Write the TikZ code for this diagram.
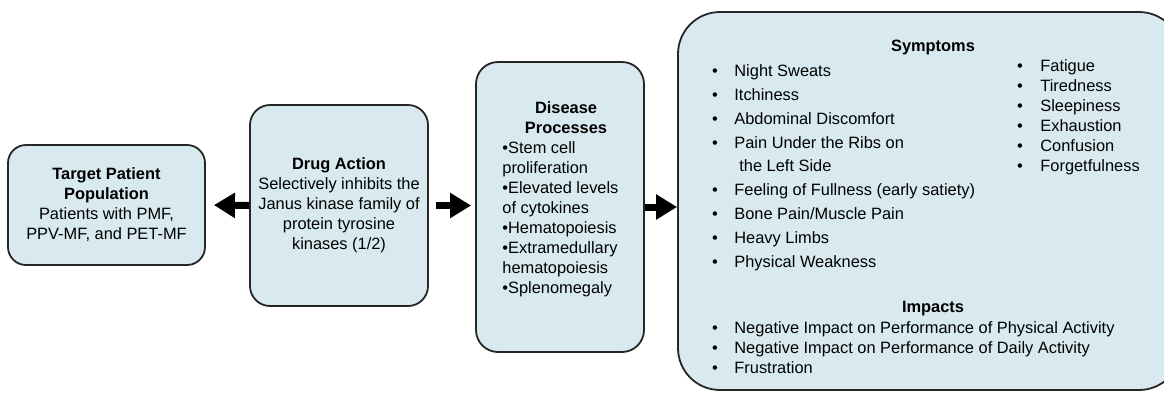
\documentclass[tikz,border=0pt]{standalone}
\usepackage{fontspec}
\setmainfont{Liberation Sans}
\usetikzlibrary{arrows.meta}
\definecolor{boxfill}{RGB}{216,234,239}
\tikzset{
    panel/.style={draw=black!85, line width=0.9pt, fill=boxfill, inner sep=0pt, align=center},
    flow/.style={line width=3.5pt, -{Triangle[length=10.5pt,width=12pt]}},
    txt/.style={inner sep=0pt, anchor=base west},
    bul/.style={inner sep=0pt, anchor=base},
    head/.style={inner sep=0pt, anchor=base, font=\fontsize{8.2}{10}\selectfont\bfseries}
}
\begin{document}
\begin{tikzpicture}[x=0.5pt,y=-0.5pt,font=\fontsize{8.2}{10}\selectfont]

            \useasboundingbox (0,0) rectangle (1164,392);

            % The four boxes
            \node[panel, minimum width=98.5pt, minimum height=60pt, rounded corners=9pt] (tgt) at (106.5,205)
                {\textbf{Target Patient}\\\textbf{Population}\\Patients with PMF,\\PPV-MF, and PET-MF};
            \node[panel, minimum width=89pt, minimum height=100.5pt, rounded corners=10pt] (drug) at (339,205.5)
                {\textbf{Drug Action}\\Selectively inhibits the\\Janus kinase family of\\protein tyrosine\\kinases (1/2)};
            \node[panel, minimum width=84pt, minimum height=145pt, rounded corners=11pt] (dis) at (560,207) {};
            \node[panel, minimum width=251.5pt, minimum height=189pt, rounded corners=21pt] (sym) at (929.5,201) {};

            % Disease processes (loop)
            \node[head] (dish1) at (566,113) {Disease};
            \node[head] (dish2) at (566,133) {Processes};
            \foreach \y/\lbl [count=\i] in {153/•Stem cell, 173/proliferation, 193/•Elevated levels,
                    213/of cytokines, 233/•Hematopoiesis, 253/•Extramedullary, 273/hematopoiesis, 293/•Splenomegaly}
                \node[txt] (dis\i) at (502,\y) {\lbl};

            % Symptoms, left column (loop)
            \node[head] (symh) at (933,51) {Symptoms};
            \foreach \y/\lbl [count=\i] in {76/Night Sweats, 100/Itchiness, 124/Abdominal Discomfort,
                    148/Pain Under the Ribs on, 195/Feeling of Fullness (early satiety),
                    219/{Bone Pain/Muscle Pain}, 243/Heavy Limbs, 267/Physical Weakness}
            {
                \node[bul] (sb\i) at (715,\y) {•};
                \node[txt] (st\i) at (734,\y) {\lbl};
            }
            \node[txt] (st0) at (739,171) {the Left Side};

            % Symptoms, right column (loop)
            \foreach \y/\lbl [count=\i] in {71/Fatigue, 91/Tiredness, 111/Sleepiness,
                    131/Exhaustion, 151/Confusion, 171/Forgetfulness}
            {
                \node[bul] (rb\i) at (1020,\y) {•};
                \node[txt] (rt\i) at (1040,\y) {\lbl};
            }

            % Impacts (loop)
            \node[head] (imph) at (933,312) {Impacts};
            \foreach \y/\lbl [count=\i] in {333/Negative Impact on Performance of Physical Activity,
                    353/Negative Impact on Performance of Daily Activity, 373/Frustration}
            {
                \node[bul] (ib\i) at (715,\y) {•};
                \node[txt] (it\i) at (734,\y) {\lbl};
            }

            % Block arrows
            \draw[flow, shorten >=4pt] (drug.west) -- (tgt.east);
            \draw[flow, shorten <=3.5pt, shorten >=2pt] (drug.east) -- (drug.east -| dis.west);
            \draw[flow] (dis.east) -- (dis.east -| sym.west);

        \end{tikzpicture}
\end{document}
